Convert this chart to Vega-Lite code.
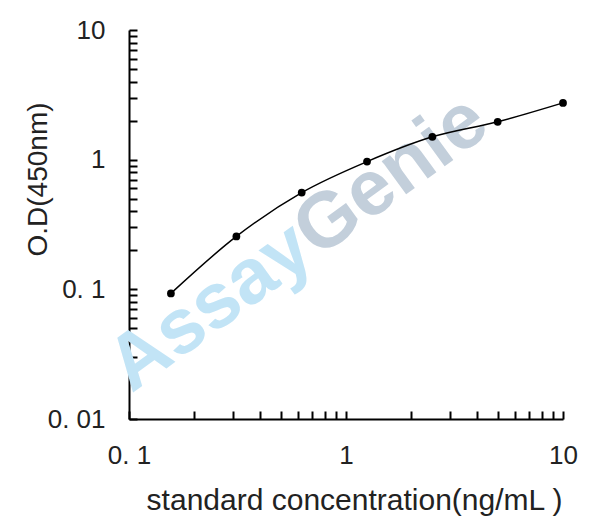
{
  "$schema": "https://vega.github.io/schema/vega-lite/v6.json",
  "width": 434,
  "height": 389,
  "autosize": "none",
  "padding": {"left": 129, "top": 30, "right": 27, "bottom": 110},
  "background": "white",
  "config": {
    "view": {"stroke": null},
    "font": "Liberation Sans"
  },
  "datasets": {
    "standard": [
      {"conc": 0.156, "od": 0.093},
      {"conc": 0.3125, "od": 0.256},
      {"conc": 0.625, "od": 0.557},
      {"conc": 1.25, "od": 0.966},
      {"conc": 2.5, "od": 1.5},
      {"conc": 5, "od": 1.96},
      {"conc": 10, "od": 2.74}
    ],
    "mark": [
      {"word": "Assay", "conc": 0.64, "od": 0.24},
      {"word": "Genie", "conc": 0.64, "od": 0.24}
    ]
  },
  "encoding": {
    "x": {
      "field": "conc",
      "type": "quantitative",
      "scale": {"type": "log", "domain": [0.1, 10], "nice": false},
      "axis": {
        "title": "standard concentration(ng/mL )",
        "values": [0.1, 0.2, 0.3, 0.4, 0.5, 0.6, 0.7, 0.8, 0.9, 1, 2, 3, 4, 5, 6, 7, 8, 9, 10],
        "labelExpr": "datum.value == 0.1 ? '0. 1' : datum.value == 1 ? '1' : datum.value == 10 ? '10' : ''",
        "labelOverlap": false,
        "labelBound": false,
        "labelFlush": false,
        "grid": false,
        "domainColor": "black",
        "domainWidth": 2,
        "tickColor": "black",
        "tickWidth": 2,
        "tickSize": -8,
        "labelFontSize": 26,
        "labelColor": "#222",
        "labelPadding": 31,
        "titleFontSize": 30,
        "titleFontWeight": "normal",
        "titleColor": "#222",
        "titleBaseline": "alphabetic",
        "titleY": 90,
        "titleX": 225
      }
    },
    "y": {
      "field": "od",
      "type": "quantitative",
      "scale": {"type": "log", "domain": [0.01, 10], "nice": false},
      "axis": {
        "title": "O.D(450nm)",
        "values": [0.01, 0.02, 0.03, 0.04, 0.05, 0.06, 0.07, 0.08, 0.09, 0.1, 0.2, 0.3, 0.4, 0.5, 0.6, 0.7, 0.8, 0.9, 1, 2, 3, 4, 5, 6, 7, 8, 9, 10],
        "labelExpr": "datum.value == 0.01 ? '0. 01' : datum.value == 0.1 ? '0. 1' : datum.value == 1 ? '1' : datum.value == 10 ? '10' : ''",
        "labelOverlap": false,
        "labelBound": false,
        "labelFlush": false,
        "grid": false,
        "domainColor": "black",
        "domainWidth": 2,
        "tickColor": "black",
        "tickWidth": 2,
        "tickSize": -8,
        "labelFontSize": 26,
        "labelColor": "#222",
        "labelPadding": 32,
        "titleFontSize": 28,
        "titleFontWeight": "normal",
        "titleColor": "#222",
        "titleAngle": -90,
        "titleBaseline": "middle",
        "titleAlign": "center",
        "titleX": -91,
        "titleY": 149
      }
    }
  },
  "layer": [
    {
      "data": {"name": "mark"},
      "transform": [{"filter": "datum.word == 'Assay'"}],
      "mark": {"type": "text", "align": "right", "baseline": "middle", "angle": -36, "fontSize": 78, "fontWeight": "bold", "color": "#c2e4f6"},
      "encoding": {"text": {"field": "word"}}
    },
    {
      "data": {"name": "mark"},
      "transform": [{"filter": "datum.word == 'Genie'"}],
      "mark": {"type": "text", "align": "left", "baseline": "middle", "angle": -36, "fontSize": 78, "fontWeight": "bold", "color": "#c3cfdb"},
      "encoding": {"text": {"field": "word"}}
    },
    {
      "data": {"name": "standard"},
      "mark": {"type": "line", "interpolate": "monotone", "color": "black", "strokeWidth": 1.5}
    },
    {
      "data": {"name": "standard"},
      "mark": {"type": "point", "filled": true, "color": "black", "size": 60, "opacity": 1}
    }
  ]
}
